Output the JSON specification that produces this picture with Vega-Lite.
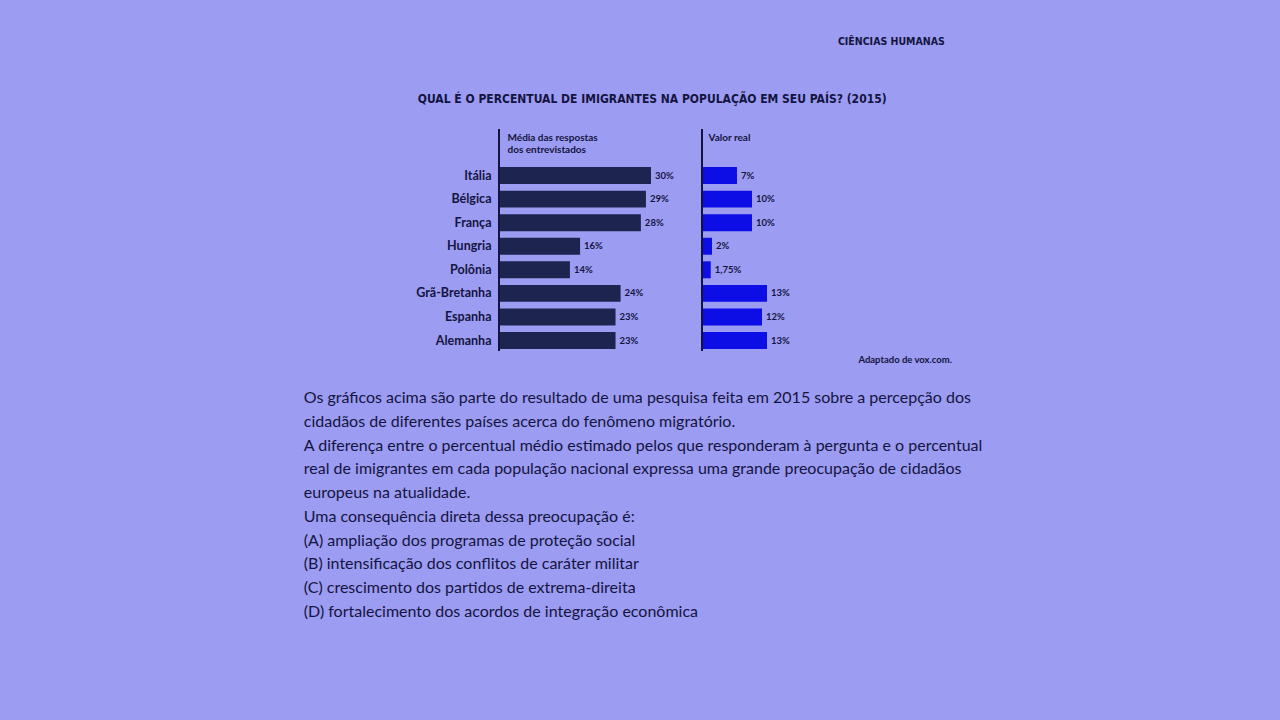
{
  "$schema": "https://vega.github.io/schema/vega-lite/v6.json",
  "background": "#9c9cf2",
  "padding": {"left": 303, "top": 36, "right": 297, "bottom": 100},
  "datasets": {
    "paises": [
      {"pais": "Itália", "media": 0.30, "real": 0.07},
      {"pais": "Bélgica", "media": 0.29, "real": 0.10},
      {"pais": "França", "media": 0.28, "real": 0.10},
      {"pais": "Hungria", "media": 0.16, "real": 0.02},
      {"pais": "Polônia", "media": 0.14, "real": 0.0175},
      {"pais": "Grã-Bretanha", "media": 0.24, "real": 0.13},
      {"pais": "Espanha", "media": 0.23, "real": 0.12},
      {"pais": "Alemanha", "media": 0.23, "real": 0.13}
    ]
  },
  "title": {
    "text": "CIÊNCIAS HUMANAS",
    "anchor": "end",
    "dx": -38,
    "font": "'DejaVu Sans Condensed', 'DejaVu Sans', sans-serif",
    "fontSize": 10.5,
    "fontWeight": "bold",
    "color": "#141440",
    "offset": 46
  },
  "vconcat": [
    {
      "title": {
        "text": [
          "Os gráficos acima são parte do resultado de uma pesquisa feita em 2015 sobre a percepção dos",
          "cidadãos de diferentes países acerca do fenômeno migratório.",
          "A diferença entre o percentual médio estimado pelos que responderam à pergunta e o percentual",
          "real de imigrantes em cada população nacional expressa uma grande preocupação de cidadãos",
          "europeus na atualidade.",
          "Uma consequência direta dessa preocupação é:",
          "(A) ampliação dos programas de proteção social",
          "(B) intensificação dos conflitos de caráter militar",
          "(C) crescimento dos partidos de extrema-direita",
          "(D) fortalecimento dos acordos de integração econômica"
        ],
        "orient": "bottom",
        "anchor": "start",
        "align": "left",
        "dx": -112,
        "offset": 26,
        "font": "Lato",
        "fontSize": 16,
        "fontWeight": "normal",
        "lineHeight": 23.7,
        "color": "#141440"
      },
      "vconcat": [
        {
          "title": {
            "text": "Adaptado de vox.com.",
            "orient": "bottom",
            "anchor": "end",
            "align": "right",
            "dx": 10,
            "offset": 3,
            "font": "Lato",
            "fontSize": 9.5,
            "fontWeight": "bold",
            "color": "#141440"
          },
          "vconcat": [
            {
              "title": {
                "text": "QUAL É O PERCENTUAL DE IMIGRANTES NA POPULAÇÃO EM SEU PAÍS? (2015)",
                "font": "'DejaVu Sans Condensed', 'DejaVu Sans', sans-serif",
                "fontSize": 12,
                "fontWeight": "bold",
                "color": "#141440",
                "anchor": "start",
                "align": "left",
                "dx": 2,
                "offset": 22
              },
              "spacing": 12,
              "hconcat": [
                {
                  "width": 190,
                  "height": 222,
                  "data": {"name": "paises"},
                  "layer": [
                    {
                      "mark": {"type": "bar", "color": "#1e2450"},
                      "encoding": {
                        "x": {
                          "field": "media",
                          "type": "quantitative",
                          "scale": {"domain": [0, 0.375], "nice": false},
                          "axis": {
                            "orient": "top",
                            "domain": false,
                            "ticks": false,
                            "labels": false,
                            "grid": false,
                            "title": ["Média das respostas", "dos entrevistados"],
                            "titleAnchor": "start",
                            "titleAlign": "left",
                            "titleBaseline": "top",
                            "titleX": 8,
                            "titleY": 3,
                            "titleFont": "Lato",
                            "titleFontSize": 10,
                            "titleFontWeight": "bold",
                            "titleColor": "#141440",
                            "titleLineHeight": 12
                          }
                        },
                        "y": {
                          "field": "pais",
                          "type": "nominal",
                          "sort": null,
                          "scale": {"paddingInner": 0.28, "paddingOuter": 0.85, "align": 0.95},
                          "axis": {
                            "title": null,
                            "domain": false,
                            "ticks": false,
                            "labelFont": "Lato",
                            "labelFontSize": 12.5,
                            "labelFontWeight": "bold",
                            "labelColor": "#141440",
                            "labelPadding": 8
                          }
                        }
                      }
                    },
                    {
                      "mark": {"type": "text", "align": "left", "baseline": "middle", "dx": 4, "font": "Lato", "fontSize": 9.5, "fontWeight": "bold", "color": "#141440"},
                      "encoding": {
                        "x": {"field": "media", "type": "quantitative"},
                        "y": {"field": "pais", "type": "nominal", "sort": null},
                        "text": {"field": "media", "type": "quantitative", "format": "~%"}
                      }
                    },
                    {
                      "mark": {"type": "rule", "color": "#141440", "strokeWidth": 1.8},
                      "encoding": {"x": {"datum": 0}}
                    }
                  ]
                },
                {
                  "width": 240,
                  "height": 222,
                  "data": {"name": "paises"},
                  "layer": [
                    {
                      "mark": {"type": "bar", "color": "#0d0de6"},
                      "encoding": {
                        "x": {
                          "field": "real",
                          "type": "quantitative",
                          "scale": {"domain": [0, 0.48], "nice": false},
                          "axis": {
                            "orient": "top",
                            "domain": false,
                            "ticks": false,
                            "labels": false,
                            "grid": false,
                            "title": "Valor real",
                            "titleAnchor": "start",
                            "titleAlign": "left",
                            "titleBaseline": "top",
                            "titleX": 6,
                            "titleY": 3,
                            "titleFont": "Lato",
                            "titleFontSize": 10,
                            "titleFontWeight": "bold",
                            "titleColor": "#141440"
                          }
                        },
                        "y": {
                          "field": "pais",
                          "type": "nominal",
                          "sort": null,
                          "scale": {"paddingInner": 0.28, "paddingOuter": 0.85, "align": 0.95},
                          "axis": null
                        }
                      }
                    },
                    {
                      "mark": {"type": "text", "align": "left", "baseline": "middle", "dx": 4, "font": "Lato", "fontSize": 9.5, "fontWeight": "bold", "color": "#141440"},
                      "encoding": {
                        "x": {"field": "real", "type": "quantitative"},
                        "y": {"field": "pais", "type": "nominal", "sort": null},
                        "text": {"field": "real", "type": "quantitative", "format": "~%"}
                      }
                    },
                    {
                      "mark": {"type": "rule", "color": "#141440", "strokeWidth": 1.8},
                      "encoding": {"x": {"datum": 0}}
                    }
                  ]
                }
              ]
            }
          ]
        }
      ]
    }
  ],
  "config": {
    "view": {"stroke": null},
    "font": "Lato",
    "locale": {
      "number": {"decimal": ",", "thousands": ".", "grouping": [3], "currency": ["R$ ", ""]}
    }
  }
}
